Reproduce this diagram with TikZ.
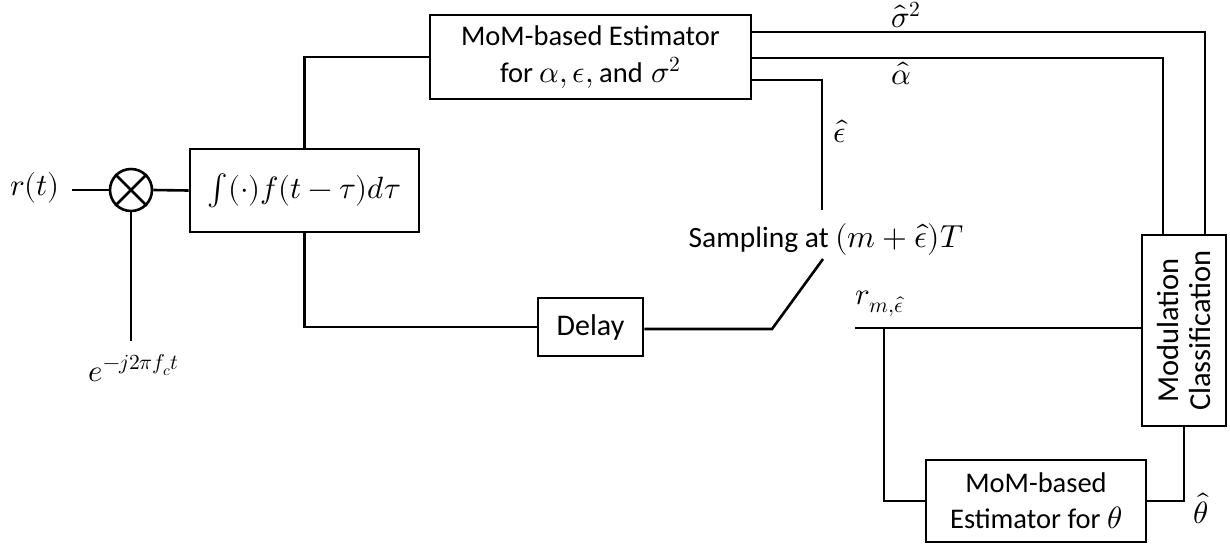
\documentclass[tikz,border=0pt]{standalone}
\usepackage{fontspec}
\usepackage{unicode-math}
\setmainfont{Carlito}
\setmathfont{Latin Modern Math}[Scale=1.08]
\begin{document}
\begin{tikzpicture}[x=1pt,y=-1pt,line width=2.6pt,
  every node/.style={font=\fontsize{28.5}{32}\selectfont},
  blk/.style={draw,line width=2.6pt,inner sep=0pt,align=center},
  lbl/.style={inner sep=0pt}]
\useasboundingbox (0,0) rectangle (1230,550);
% nodes
\node[lbl] (rt) at (35,188) {$r(t)$};
\node[draw,circle,minimum size=42pt,inner sep=0pt] (mult) at (131,190) {};
\draw[line width=2.6pt] (mult.north west) -- (mult.south east) (mult.north east) -- (mult.south west);
\node[blk,minimum width=229pt,minimum height=83pt] (integ) at (304.5,190.5) {$\textstyle\int(\cdot)f(t-\tau)d\tau$};
\node[blk,minimum width=321pt,minimum height=84pt] (mom) at (590.5,57) {MoM-based Estimator\\[5pt]for $\alpha,\epsilon,\mathrm{and}\;\sigma^2$};
\node[blk,font=\fontsize{30}{34}\selectfont,minimum width=105pt,minimum height=58pt] (delay) at (590.5,327) {Delay};
\node[blk,font=\fontsize{30.5}{34}\selectfont,rotate=90,minimum width=191pt,minimum height=84pt] (mod) at (1184,330.5) {Modulation\\[-2pt]Classification};
\node[blk,minimum width=220pt,minimum height=82pt] (th) at (1036,501) {MoM-based\\[4pt]Estimator for $\theta$};
\node[lbl,font=\fontsize{29.5}{33}\selectfont] (samp) at (826,240) {Sampling at $(m+\hat{\epsilon})T$};
\node[lbl] (ex) at (134,368) {$e^{-j2\pi f_c t}$};
\node[lbl] (lsig) at (906,15) {$\hat{\sigma}^2$};
\node[lbl] (lalp) at (901,73) {$\hat{\alpha}$};
\node[lbl] (leps) at (840,131) {$\hat{\epsilon}$};
\node[lbl] (lr) at (880,304) {$r_{m,\hat{\epsilon}}$};
\node[lbl] (lth) at (1201,508) {$\hat{\theta}$};
% coordinates
\coordinate (rtend) at (72,190);
\coordinate (osc) at (131,341);
\coordinate (epsend) at (822,210);
\coordinate (swA) at (772,329);
\coordinate (swB) at (823,259);
\coordinate (rstart) at (855,328);
\coordinate (rbr) at (884,328);
% connectors
\draw (rtend) -- (mult.west);
\draw (mult.east) -- (integ.west);
\draw (mult.south) -- (osc);
\draw (integ.north) |- (mom.west);
\draw (integ.south) |- (delay.west);
\draw ([yshift=25pt]mom.east) -| ([xshift=21pt]mod.east);
\draw ([yshift=-1pt]mom.east) -| ([xshift=-21pt]mod.east);
\draw ([yshift=-23pt]mom.east) -| (epsend);
\draw (delay.east |- swA) -- (swA) -- (swB);
\draw (rstart) -- (rstart -| mod.north);
\draw (rbr) |- (th.west);
\draw (th.east) -| (mod.west);
\end{tikzpicture}
\end{document}
